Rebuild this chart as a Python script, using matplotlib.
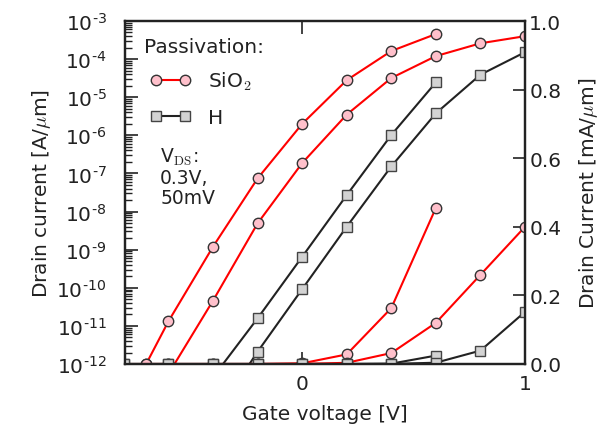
import numpy as np
import matplotlib
matplotlib.use("Agg")
import matplotlib.pyplot as plt
from matplotlib.ticker import FixedLocator, FixedFormatter, LogLocator, NullFormatter
from matplotlib.lines import Line2D

plt.rcParams['font.family'] = ['DejaVu Sans']
plt.rcParams['mathtext.fontset'] = 'cm'

# ---- data (A/um) ----
vg_sio2_hi = [-0.7, -0.6, -0.4, -0.2, 0.0, 0.2, 0.4, 0.6]
id_sio2_hi = [1.0e-12, 1.32e-11, 1.2e-9, 7.4e-8, 2.0e-6, 2.8e-5, 1.63e-4, 4.55e-4]

vg_sio2_lo = [-0.8, -0.6, -0.4, -0.2, 0.0, 0.2, 0.4, 0.6, 0.8, 1.0]
id_sio2_lo = [1e-13, 5.5e-13, 4.6e-11, 4.9e-9, 1.87e-7, 3.5e-6, 3.19e-5, 1.2e-4, 2.6e-4, 4.0e-4]

vg_h_hi = [-0.8, -0.6, -0.4, -0.2, 0.0, 0.2, 0.4, 0.6]
id_h_hi = [1e-14, 1e-13, 4.5e-13, 1.58e-11, 6.5e-10, 2.7e-8, 1.02e-6, 2.45e-5]

vg_h_lo = [-0.8, -0.6, -0.4, -0.2, 0.0, 0.2, 0.4, 0.6, 0.8, 1.0]
id_h_lo = [1e-14, 1e-14, 3.5e-14, 2.1e-12, 9.2e-11, 4.0e-9, 1.53e-7, 3.78e-6, 3.9e-5, 1.52e-4]

decades = list(range(-12, -2))
x_ticks = [0, 1]
right_ticks = [0.0, 0.2, 0.4, 0.6, 0.8, 1.0]
legend_labels = ['SiO$_2$', 'H']

FS = 14.5
tc = '#222222'
red = '#ff0000'
blk = '#222222'
sio2_style = dict(color=red, lw=1.5, marker='o', ms=7.5, mfc='#ffc0cb', mec='#333333', mew=1.0)
h_style = dict(color=blk, lw=1.5, marker='s', ms=7.5, mfc='#d3d3d3', mec='#444444', mew=1.0)

fig = plt.figure(figsize=(6.05, 4.31), dpi=100)
ax = fig.add_axes([125/605, 1-365/431, 400/605, 343/431])
ax2 = ax.twinx()

# log-scale curves (left)
ax.plot(vg_sio2_hi, id_sio2_hi, **sio2_style)
ax.plot(vg_sio2_lo, id_sio2_lo, **sio2_style)
ax.plot(vg_h_hi, id_h_hi, **h_style)
ax.plot(vg_h_lo, id_h_lo, **h_style)
ax.set_yscale('log')
ax.set_ylim(1e-12, 1e-3)
ax.set_xlim(-0.795, 1.0)

# linear-scale curves (right) in mA/um
ax2.plot(vg_sio2_hi, np.array(id_sio2_hi)*1e3, **sio2_style)
ax2.plot(vg_sio2_lo, np.array(id_sio2_lo)*1e3, **sio2_style)
ax2.plot(vg_h_hi, np.array(id_h_hi)*1e3, **h_style)
ax2.plot(vg_h_lo, np.array(id_h_lo)*1e3, **h_style)
ax2.set_ylim(0, 1.0)

# ticks
ax.yaxis.set_major_locator(FixedLocator([10.0**d for d in decades]))
ax.yaxis.set_major_formatter(FixedFormatter(['10$^{\\mathregular{\u2010%d}}$' % abs(d) for d in decades]))
ax.yaxis.set_minor_locator(LogLocator(base=10, subs=np.arange(2, 10), numticks=20))
ax.yaxis.set_minor_formatter(NullFormatter())
ax.set_xticks(x_ticks)
ax.set_xticklabels([str(t) for t in x_ticks])
ax.tick_params(axis='y', which='major', direction='in', length=9, width=1.2, labelsize=FS, colors=tc, pad=13)
ax.tick_params(axis='y', which='minor', direction='in', length=5, width=1.0, colors=tc)
ax.tick_params(axis='x', which='both', direction='in', length=9, width=1.2, top=True, labelsize=FS, colors=tc, pad=7)
ax2.set_yticks(right_ticks)
ax2.set_yticklabels(['%.1f' % t for t in right_ticks])
ax2.tick_params(axis='y', direction='in', length=9, width=1.2, labelsize=FS, colors=tc, pad=3)

for a in (ax, ax2):
    for s in a.spines.values():
        s.set_linewidth(1.6)
        s.set_color(tc)

ax.set_ylabel('Drain current [A/$\\mu$m]', fontsize=FS, color=tc, labelpad=2.5)
ax2.set_ylabel('Drain Current [mA/$\\mu$m]', fontsize=FS, color=tc, labelpad=11.5)
ax.set_xlabel('Gate voltage [V]', fontsize=FS, color=tc, labelpad=8)

# legend
hs = [Line2D([], [], **sio2_style), Line2D([], [], **h_style)]
leg = ax2.legend(hs, legend_labels, loc='upper left', bbox_to_anchor=(0.0625, 0.858),
                 frameon=False, numpoints=2, fontsize=FS, handlelength=2.05,
                 labelspacing=0.8, handletextpad=0.85, borderaxespad=0.0, borderpad=0.0)
for t in leg.get_texts():
    t.set_color(tc)
ax2.text(0.0475, 0.927, 'Passivation:', transform=ax2.transAxes, ha='left', va='center',
         fontsize=FS, color=tc)

ax2.text(0.088, 0.635, 'V$_{\\mathrm{DS}}$:\n0.3V,\n50mV', transform=ax2.transAxes,
         ha='left', va='top', fontsize=13.5, color=tc, linespacing=1.05)

fig.savefig('out.png', dpi=100)
